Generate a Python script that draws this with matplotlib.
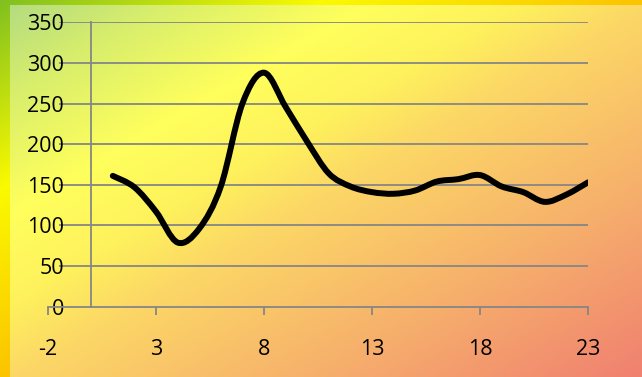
import numpy as np
import matplotlib
matplotlib.use("Agg")
import matplotlib.pyplot as plt
from matplotlib.colors import to_rgb
from matplotlib.path import Path
from matplotlib.patches import PathPatch

# data
xs = list(range(1, 24))
ys = [161, 147, 117, 79, 96, 148, 250, 288, 246, 203, 164, 148,
      141, 139, 143, 154, 157, 162, 148, 141, 129, 138, 153]
xticks = [-2, 3, 8, 13, 18, 23]
yticks = [0, 50, 100, 150, 200, 250, 300, 350]

W, H = 642, 377
fig = plt.figure(figsize=(W / 100, H / 100), dpi=100)
plt.rcParams['font.family'] = ['Open Sans', 'DejaVu Sans']
plt.rcParams['axes.unicode_minus'] = False


def gradient(w, h, stops):
    # diagonal gradient, top-left -> bottom-right
    gx, gy = np.meshgrid(np.linspace(0, 1, w), np.linspace(0, 1, h))
    t = (gx + gy) / 2
    pos = [s[0] for s in stops]
    cols = np.array([to_rgb(s[1]) for s in stops])
    img = np.zeros((h, w, 3))
    for k in range(3):
        img[..., k] = np.interp(t, pos, cols[:, k])
    return img


outer = [(0, '#80c020'), (0.25, '#fafa00'), (0.5, '#fcc400'), (1, '#f08040')]
inner = [(0, '#b4dc80'), (0.12, '#d8ee6c'), (0.28, '#ffff5c'), (0.4, '#fef25c'),
         (0.5, '#fcd866'), (0.75, '#f6ae6c'), (1, '#f08070')]

bg = fig.add_axes([0, 0, 1, 1], zorder=-1)
bg.imshow(gradient(W, H, outer), extent=[0, W, H, 0], aspect='auto')
bg.imshow(gradient(W - 10, H - 5, inner), extent=[10, W, H, 5], aspect='auto')
bg.set_xlim(0, W)
bg.set_ylim(H, 0)
bg.axis('off')

ax = fig.add_axes([48 / W, 1 - 306.7 / H, 540 / W, 284.4 / H])
ax.set_facecolor('none')
ax.set_xlim(-2, 23)
ax.set_ylim(0, 350)

grey = '#868686'
ax.hlines(yticks[1:], -1.5, 23, color=grey, lw=1.3, zorder=1)

for s in ['top', 'right']:
    ax.spines[s].set_visible(False)
ax.spines['left'].set_position(('data', 0))
for s in ['left', 'bottom']:
    ax.spines[s].set_color(grey)
    ax.spines[s].set_linewidth(1.3)

ax.set_xticks(xticks)
ax.set_yticks(yticks)
ax.tick_params(axis='x', direction='out', length=6, width=1.3, color=grey,
               pad=17.5, labelsize=15.5, labelcolor='black')
ax.tick_params(axis='y', length=0, pad=19.5, labelsize=15.5, labelcolor='black')

# smoothed line (Catmull-Rom style bezier like the spreadsheet)
pts = np.column_stack([xs, ys]).astype(float)
n = len(pts)
verts = [pts[0]]
codes = [Path.MOVETO]
for i in range(n - 1):
    p0 = pts[max(i - 1, 0)]
    p1 = pts[i]
    p2 = pts[i + 1]
    p3 = pts[min(i + 2, n - 1)]
    verts += [p1 + (p2 - p0) / 6, p2 - (p3 - p1) / 6, p2]
    codes += [Path.CURVE4] * 3
patch = PathPatch(Path(verts, codes), fill=False, edgecolor='black', lw=4.3,
                  capstyle='round', joinstyle='round', zorder=3)
ax.add_patch(patch)

fig.savefig('out.png', dpi=100)
